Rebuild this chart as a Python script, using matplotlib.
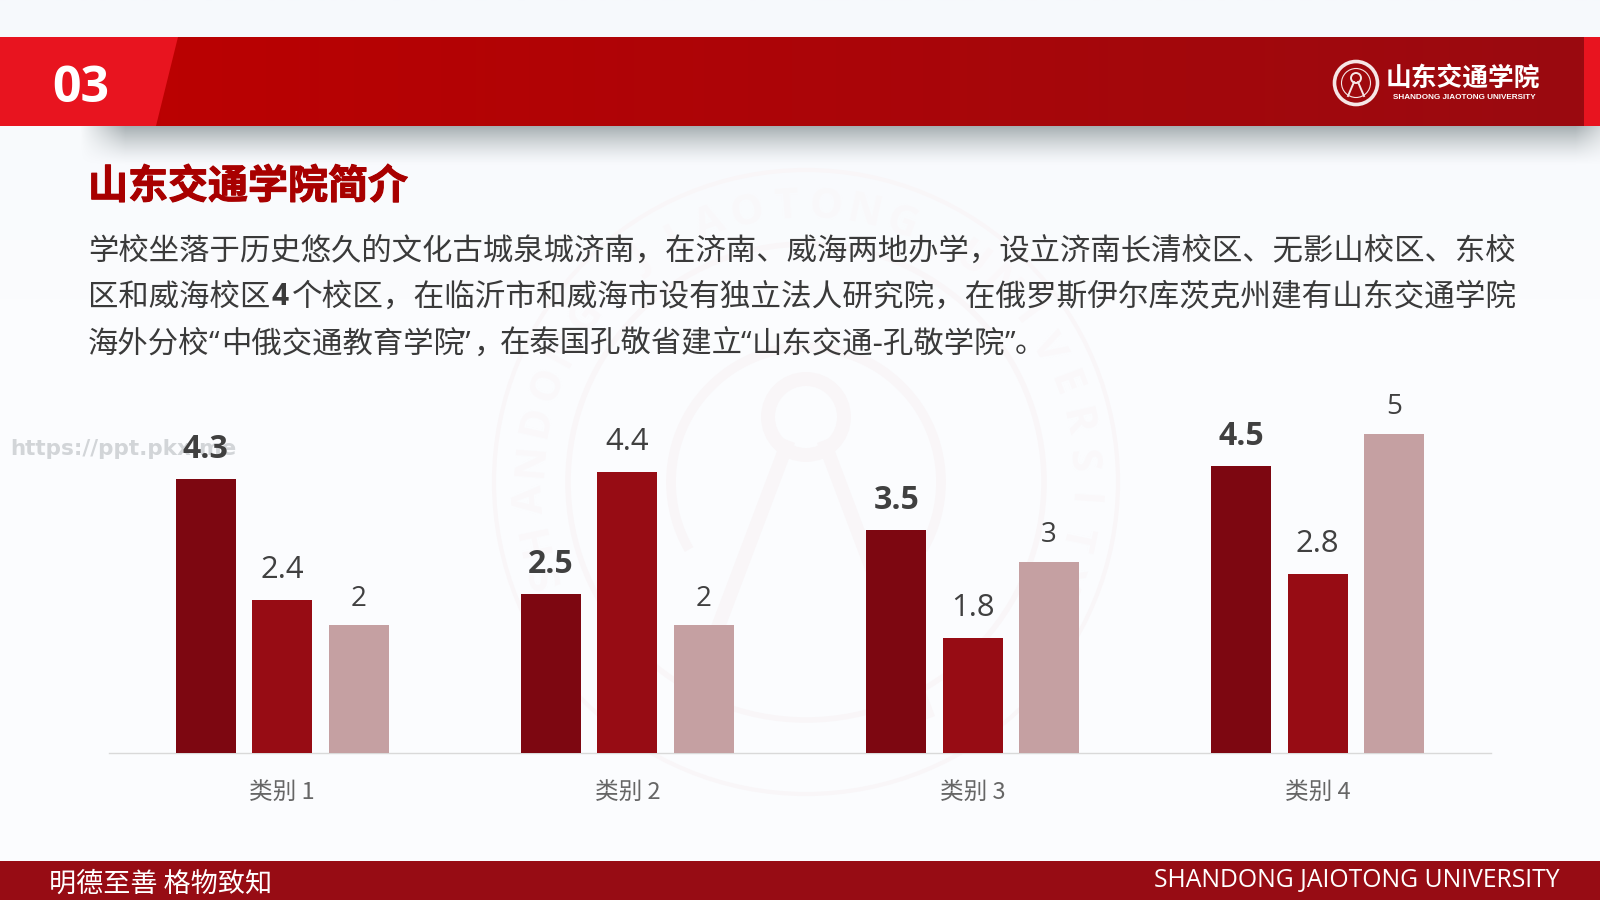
import numpy as np
import matplotlib
matplotlib.use("Agg")
import matplotlib.pyplot as plt
import matplotlib.patheffects as pe
from matplotlib.patches import Polygon, Circle, Rectangle, Arc
from matplotlib.colors import to_rgb

CJK = ['Noto Sans CJK SC', 'DejaVu Sans']
LAT = ['Open Sans', 'Noto Sans CJK SC', 'DejaVu Sans']
plt.rcParams['font.family'] = CJK

categories = ['类别 1', '类别 2', '类别 3', '类别 4']
series_1 = [4.3, 2.5, 3.5, 4.5]
series_2 = [2.4, 4.4, 1.8, 2.8]
series_3 = [2, 2, 3, 5]
series_colors = ['#7D0711', '#970C14', '#C5A0A2']

title = '山东交通学院简介'
line_1 = '学校坐落于历史悠久的文化古城泉城济南，在济南、威海两地办学，设立济南长清校区、无影山校区、东校'
line_2 = ['区和威海校区', '4', '个校区，在临沂市和威海市设有独立法人研究院，在俄罗斯伊尔库茨克州建有山东交通学院']
line_3 = ['海外分校', '“', '中俄交通教育学院', '”', '，', '在泰国孔敬省建立', '“', '山东交通-孔敬学院', '”', '。']

W, H = 1600, 900
fig = plt.figure(figsize=(16, 9), dpi=100, facecolor='#FBFCFE')

bg = fig.add_axes([0, 0, 1, 1], zorder=0)
bg.axis('off')


def grad(x0, x1, y0, y1, c0, c1, horizontal=True, z=1, a0=1.0, a1=1.0):
    t = np.linspace(0, 1, 256)
    c0, c1 = np.array(to_rgb(c0)), np.array(to_rgb(c1))
    cols = np.outer(1 - t, c0) + np.outer(t, c1)
    alph = (1 - t) * a0 + t * a1
    rgba = np.column_stack([cols, alph])
    img = rgba[None, :, :] if horizontal else rgba[:, None, :]
    bg.imshow(img, extent=(x0, x1, y1, y0), aspect='auto', zorder=z, interpolation='bilinear')


# background wash
grad(0, W, 0, 300, '#F6F9FC', '#FBFCFE', horizontal=False, z=0)

# faint seal watermark
wm = '#F9F6F8'
cx, cy = 806, 482
for r, lw in [(312, 3), (238, 4)]:
    bg.add_patch(Circle((cx, cy), r, fill=False, ec=wm, lw=lw, zorder=1))
bg.add_patch(Arc((cx, cy), 270, 270, theta1=150, theta2=390, fill=False, ec=wm, lw=7, zorder=1))
word = 'SHANDONG JIAOTONG UNIVERSITY'
angs = np.linspace(200, -20, len(word))
for ch, a in zip(word, angs):
    rad = np.deg2rad(a)
    bg.text(cx + 275 * np.cos(rad), cy - 275 * np.sin(rad), ch, color='#FAF8FA', fontsize=30,
            family=LAT, weight='bold', ha='center', va='center', rotation=a - 90, zorder=1)
bg.add_patch(Circle((cx, cy - 65), 38, fill=False, ec=wm, lw=10, zorder=1))
bg.plot([cx - 20, cx - 120], [cy - 35, cy + 230], color=wm, lw=10, zorder=1)
bg.plot([cx + 20, cx + 120], [cy - 35, cy + 230], color=wm, lw=10, zorder=1)

# header shadow with soft ends
sx = np.clip(np.minimum(np.arange(1540) / 45.0, (1540 - np.arange(1540)) / 45.0), 0, 1)
sy = np.linspace(0.75, 0, 40) ** 1.4
alpha = np.outer(sy, sx)
rgba = np.zeros(alpha.shape + (4,))
rgba[..., :3] = to_rgb('#7F8A8E')
rgba[..., 3] = alpha
bg.imshow(rgba, extent=(80, 1620, 166, 126), aspect='auto', zorder=2, interpolation='bilinear')

grad(0, 1584, 37, 126, '#BE0000', '#9A0A10', horizontal=True, z=3)
bg.add_patch(Polygon([(0, 37), (178, 37), (156, 126), (0, 126)], fc='#E8141F', ec='none', zorder=4))
bg.add_patch(Rectangle((1584, 37), 16, 89, fc='#E8141F', ec='none', zorder=4))
bg.text(81, 89, '03', color='white', fontsize=36, weight='bold', family=LAT, ha='center', va='center', zorder=5)

# header logo
lc = '#F6E6E6'
bg.add_patch(Circle((1356, 83), 21.5, fill=False, ec=lc, lw=2.6, zorder=5))
bg.add_patch(Circle((1356, 83), 14.5, fill=False, ec=lc, lw=0.8, zorder=5))
bg.add_patch(Circle((1356, 78), 5, fill=False, ec=lc, lw=1.4, zorder=5))
bg.plot([1354, 1348], [82, 96], color=lc, lw=1.4, zorder=5)
bg.plot([1358, 1364], [82, 96], color=lc, lw=1.4, zorder=5)
bg.text(1386, 78, '山东交通学院', color='white', fontsize=18.5, weight='bold', ha='left', va='center', zorder=5)
bg.text(1393, 97.5, 'SHANDONG JIAOTONG UNIVERSITY', color='white', fontsize=5.9, weight='bold',
        family=['Liberation Sans'], ha='left', va='center', zorder=5)

# title
bg.text(88, 187, title, color='#A80000', fontsize=28.8, weight='bold', ha='left', va='center', zorder=5,
        path_effects=[pe.withStroke(linewidth=0.8, foreground='#A80000')])

# body text, one run per spaced piece
body_c = '#3A3A3A'
bg.text(88, 251, line_1, color=body_c, fontsize=21.85, ha='left', va='center', zorder=5)
for s, xp, fs, fam, wt in zip(line_2, [88, 271, 292], [21.85, 21.6, 22.05], [CJK, LAT, CJK],
                              ['normal', 'bold', 'normal']):
    bg.text(xp, 297, s, color=body_c, fontsize=fs, family=fam, weight=wt, ha='left', va='center', zorder=5)
for s, xp in zip(line_3, [88, 209, 221, 460, 474, 500, 741, 752, 1005, 1015]):
    fam = LAT if s in '“”' else CJK
    bg.text(xp, 344, s, color=body_c, fontsize=21.85, family=fam, ha='left', va='center', zorder=5)

# site stamp
bg.text(10, 449, 'https://ppt.pkx.me', color='#D2D5D8', fontsize=15.5, weight='bold',
        family=['DejaVu Sans'], ha='left', va='center', zorder=5)

# footer
bg.add_patch(Rectangle((0, 861), W, 39, fc='#970C14', ec='none', zorder=4))
bg.text(49, 884, '明德至善 格物致知', color='white', fontsize=19.5, ha='left', va='center', zorder=5)
bg.text(1560, 880, 'SHANDONG JAIOTONG UNIVERSITY', color='white', fontsize=17.8, family=LAT,
        ha='right', va='center', zorder=5)
bg.set_xlim(0, W)
bg.set_ylim(H, 0)

# chart
px_left, px_right, px_base, px_top = 109, 1491, 753, 400
ax = fig.add_axes([px_left / W, 1 - px_base / H, (px_right - px_left) / W, (px_base - px_top) / H], zorder=2)
ax.patch.set_alpha(0)
ax.set_ylim(0, (px_base - px_top) / 63.8)
ax.set_xlim(-0.502, 3.502)
x = np.arange(len(categories))
bw, off = 0.1737, 0.2214
label_style = [dict(fontsize=23, weight='bold'), dict(fontsize=22.3), dict(fontsize=20)]
label_pad = [9, 11, 9]
for i, (vals, col) in enumerate(zip([series_1, series_2, series_3], series_colors)):
    bars = ax.bar(x + (i - 1) * off, vals, bw, color=col, zorder=3)
    labs = ax.bar_label(bars, labels=[f'{v:g}' for v in vals], padding=label_pad[i], color='#404040',
                        family=LAT, **label_style[i])
    for lab in labs:
        lab.set_zorder(6)
for s in ['top', 'left', 'right']:
    ax.spines[s].set_visible(False)
ax.spines['bottom'].set_color('#D9D9D9')
ax.spines['bottom'].set_linewidth(1.0)
ax.set_yticks([])
ax.set_xticks(x)
ax.set_xticklabels(categories, fontsize=17, color='#666666', family=CJK)
ax.tick_params(axis='x', length=0, pad=20)

fig.savefig('out.png', dpi=100)
